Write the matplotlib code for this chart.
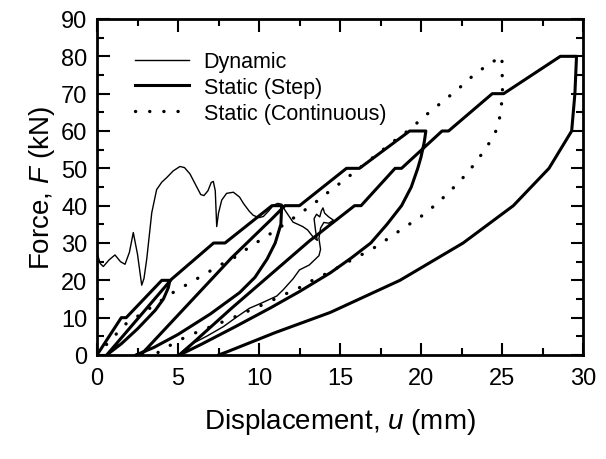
import matplotlib
matplotlib.use("Agg")
import matplotlib.pyplot as plt
from matplotlib.ticker import MultipleLocator

plt.rcParams['font.family'] = ['Liberation Sans', 'DejaVu Sans']
plt.rcParams['mathtext.fontset'] = 'custom'
plt.rcParams['mathtext.rm'] = 'Liberation Sans'
plt.rcParams['mathtext.it'] = 'Liberation Sans:italic'

# Dynamic test (thin line)
dyn_x = [0.0, 0.2, 0.39, 0.75, 1.11, 1.45, 1.73, 2.0, 2.24, 2.5, 2.76, 2.9, 3.07, 3.38, 3.68, 4.0,
         4.3, 4.7, 5.12, 5.4, 5.74, 6.1, 6.4, 6.6, 6.85, 7.05, 7.18, 7.3, 7.39, 7.5, 7.7, 8.0,
         8.42, 8.8, 9.04, 9.4, 9.65, 10.0, 10.27, 10.6, 10.89, 11.15, 11.4, 11.6, 12.1, 12.7,
         13.0, 13.36, 13.6, 13.5, 13.4, 13.55, 13.75, 13.85, 13.95, 14.05, 14.3, 14.6, 14.3,
         14.0, 13.8, 13.7, 13.8, 13.7, 13.1, 12.5, 12.1, 11.5, 11.1, 10.7, 10.2, 9.4, 8.6,
         7.8, 6.8, 5.7, 5.0]
dyn_f = [27.4, 24.5, 23.7, 25.5, 26.8, 25.0, 24.3, 27.5, 32.8, 27.0, 18.7, 20.5, 25.7, 38.1, 44.3, 46.3,
         47.5, 49.3, 50.5, 50.2, 48.5, 45.5, 43.0, 42.7, 44.0, 46.2, 46.5, 44.0, 34.4, 38.0, 41.5, 43.3,
         43.6, 42.3, 40.6, 38.5, 37.4, 36.8, 37.1, 38.6, 40.1, 40.6, 40.4, 38.8, 35.6, 34.4,
         33.5, 31.5, 30.7, 33.0, 36.5, 37.7, 37.0, 38.6, 39.4, 38.0, 37.0, 36.1, 35.3,
         35.5, 34.0, 31.2, 28.3, 26.6, 24.1, 22.8, 20.4, 17.5, 15.8, 15.0, 14.0, 12.5, 10.1,
         7.6, 5.1, 2.6, 0.0]

# Static test, step loading (thick line)
step_x = [0.0, 1.5, 1.8, 4.0, 4.5,
          4.4, 4.1, 3.6, 2.5, 1.5, 0.6,
          4.6, 7.2, 7.9, 10.8, 11.4,
          11.35, 11.0, 10.5, 9.75, 8.8, 7.0, 5.0, 3.5, 2.4, 2.7,
          8.3, 10.8, 11.6, 12.5, 15.4, 16.2, 19.3, 20.3,
          20.2, 20.0, 19.8, 19.4, 18.8, 17.9, 16.9, 15.7, 14.4, 12.5, 10.7, 8.5, 6.5, 5.1,
          8.3, 10.7, 13.1, 15.9, 16.3, 18.4, 18.8, 21.3, 21.7, 24.4, 25.1, 28.6, 29.6,
          29.55, 29.5, 29.3, 28.6, 27.9, 25.7, 22.6, 18.7, 14.4, 11.0, 8.0, 7.5]
step_f = [0.0, 10.0, 10.0, 20.0, 20.0,
          18.0, 15.0, 12.0, 7.0, 3.0, 0.0,
          20.3, 30.0, 30.0, 40.0, 40.0,
          35.0, 30.0, 25.7, 20.8, 16.7, 11.0, 5.5, 2.0, 0.0, 0.0,
          26.0, 36.5, 40.0, 40.0, 50.0, 50.0, 60.0, 60.0,
          57.0, 53.0, 50.0, 45.0, 40.0, 35.0, 30.0, 26.0, 22.0, 17.0, 12.6, 7.5, 3.0, 0.0,
          12.5, 21.5, 30.5, 40.0, 40.0, 50.0, 50.0, 60.0, 60.0, 70.0, 70.0, 80.0, 80.0,
          75.0, 70.0, 60.0, 55.0, 50.0, 40.0, 30.0, 20.0, 11.4, 6.0, 0.8, 0.0]

# Static test, continuous loading (dotted line)
cont_x = [0.0, 0.9, 1.8, 2.8, 3.7, 4.6, 5.6, 6.6, 7.6, 8.6, 9.5, 10.5, 11.5, 12.4, 13.4, 14.3, 15.3,
          16.3, 17.3, 18.3, 19.3, 20.2, 21.2, 22.2, 23.1, 24.1, 25.0,
          25.0, 25.04, 25.0, 24.9, 24.7, 24.2, 23.6, 22.9, 22.0, 21.1, 20.2, 19.2, 18.2, 17.3,
          16.3, 15.3, 14.4, 13.3, 12.4, 11.5, 10.5, 9.5, 8.5, 7.5, 6.5, 5.5, 4.6, 3.5]
cont_f = [0.0, 4.3, 8.4, 11.2, 13.8, 16.5, 19.0, 21.5, 24.1, 26.4, 29.2, 31.9, 34.8, 37.5, 40.6, 43.7, 47.0,
          50.4, 53.8, 57.2, 60.4, 63.9, 67.4, 70.9, 74.4, 77.7, 80.0,
          76.2, 72.3, 68.4, 64.5, 60.6, 56.7, 52.9, 48.9, 44.8, 41.0, 37.7, 34.8, 31.9, 29.2,
          26.8, 24.5, 22.3, 20.0, 17.8, 16.1, 14.0, 12.1, 10.2, 8.4, 6.7, 4.9, 2.8, 0.0]

x_ticks = [0, 5, 10, 15, 20, 25, 30]
y_ticks = [0, 10, 20, 30, 40, 50, 60, 70, 80, 90]

fig = plt.figure(figsize=(6.06, 4.60), dpi=100)
ax = fig.add_axes([97/606, 1-356/460, 486/606, 336/460])

ax.plot(dyn_x, dyn_f, color='black', lw=1.0, label='Dynamic')
ax.plot(step_x, step_f, color='black', lw=2.2, solid_joinstyle='round', label='Static (Step)')
ax.plot(cont_x, cont_f, color='black', lw=2.4, linestyle=(0, (0.05, 4.2)),
        dash_capstyle='round', label='Static (Continuous)')

ax.set_xlim(0, 30)
ax.set_ylim(0, 90)
ax.set_xticks(x_ticks)
ax.set_yticks(y_ticks)
ax.xaxis.set_minor_locator(MultipleLocator(2.5))
ax.yaxis.set_minor_locator(MultipleLocator(5))
ax.tick_params(which='both', direction='in', top=True, right=True, labelsize=17, width=1.5)
ax.tick_params(which='major', length=9)
ax.tick_params(axis='x', which='major', pad=9)
ax.tick_params(axis='y', which='major', pad=7)
ax.tick_params(which='minor', length=5)
for s in ax.spines.values():
    s.set_linewidth(2.0)

ax.set_xlabel('Displacement, $u$ (mm)', fontsize=20, labelpad=12)
ax.set_ylabel('Force, $F$ (kN)', fontsize=20, labelpad=3)

leg = ax.legend(loc='upper left', bbox_to_anchor=(0.06, 0.93), frameon=False, fontsize=15.5,
                handlelength=2.5, handletextpad=0.7, labelspacing=0.22, borderaxespad=0)

fig.savefig('out.png', dpi=100)
